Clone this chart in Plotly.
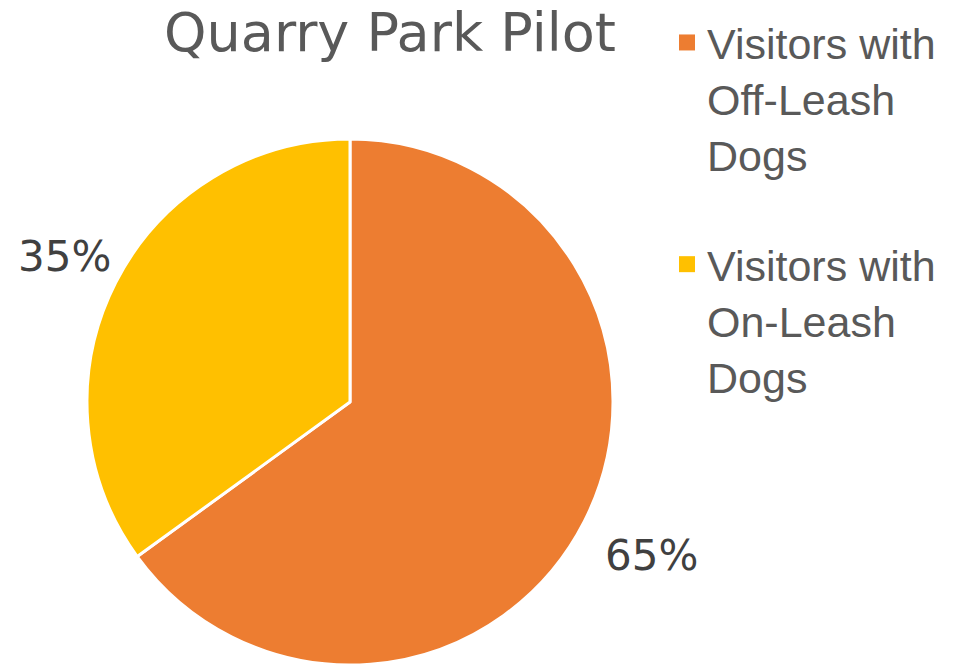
import numpy as np
import plotly.graph_objects as go

title = "Quarry Park Pilot"
labels = ["Visitors with Off-Leash Dogs", "Visitors with On-Leash Dogs"]
legend_text = ["Visitors with<br>Off-Leash<br>Dogs", "Visitors with<br>On-Leash<br>Dogs"]
values = [65, 35]
colors = ["#ED7D31", "#FFC000"]

W, H = 966, 668
cx, cy, r = 350, 402, 263  # pie centre / radius in px
label_dist = r + 66        # data labels sit outside the pie

fig = go.Figure()
fig.add_trace(go.Pie(
    labels=labels,
    values=values,
    sort=False,
    direction="clockwise",
    rotation=0,
    marker=dict(colors=colors, line=dict(color="white", width=3)),
    textinfo="none",
    domain=dict(x=[(cx - r) / W, (cx + r) / W], y=[(H - cy - r) / H, (H - cy + r) / H]),
    showlegend=False,
))

# percentage labels placed along each slice's mid angle
total = sum(values)
start = 0.0
for v in values:
    mid = (start + v / 2) / total * 2 * np.pi  # clockwise from 12 o'clock
    start += v
    fig.add_annotation(
        x=(cx + 8 + label_dist * np.sin(mid)) / W,
        y=(H - cy - 4 + label_dist * np.cos(mid)) / H,
        xref="paper", yref="paper", showarrow=False,
        xanchor="center", yanchor="middle",
        text=f"{round(100 * v / total)}%",
        font=dict(family="DejaVu Sans", size=42, color="#404040"),
    )

# legend entries (bigger square swatches + gap between groups)
for i, (name, col) in enumerate(zip(legend_text, colors)):
    fig.add_trace(go.Scatter(
        x=[None], y=[None], mode="markers", name=name,
        marker=dict(symbol="square", size=20, color=col),
        legendgroup=f"g{i}", hoverinfo="skip",
    ))

fig.update_layout(
    width=W, height=H,
    margin=dict(l=0, r=0, t=0, b=0),
    paper_bgcolor="white",
    plot_bgcolor="rgba(0,0,0,0)",
    xaxis=dict(visible=False),
    yaxis=dict(visible=False),
    font=dict(family="Liberation Sans", color="#595959"),
    title=dict(text=title, x=390 / W, xanchor="center", y=0.98, yanchor="top",
               font=dict(family="DejaVu Sans", size=54, color="#595959")),
    legend=dict(x=667 / W, y=0.988, xanchor="left", yanchor="top",
                font=dict(family="Liberation Sans", size=43, color="#595959"), valign="top",
                itemsizing="trace", itemwidth=30, tracegroupgap=51,
                bgcolor="rgba(0,0,0,0)"),
)

fig.write_html("out.html", config={"displayModeBar": False},
               post_script="document.body.style.margin='0';")
